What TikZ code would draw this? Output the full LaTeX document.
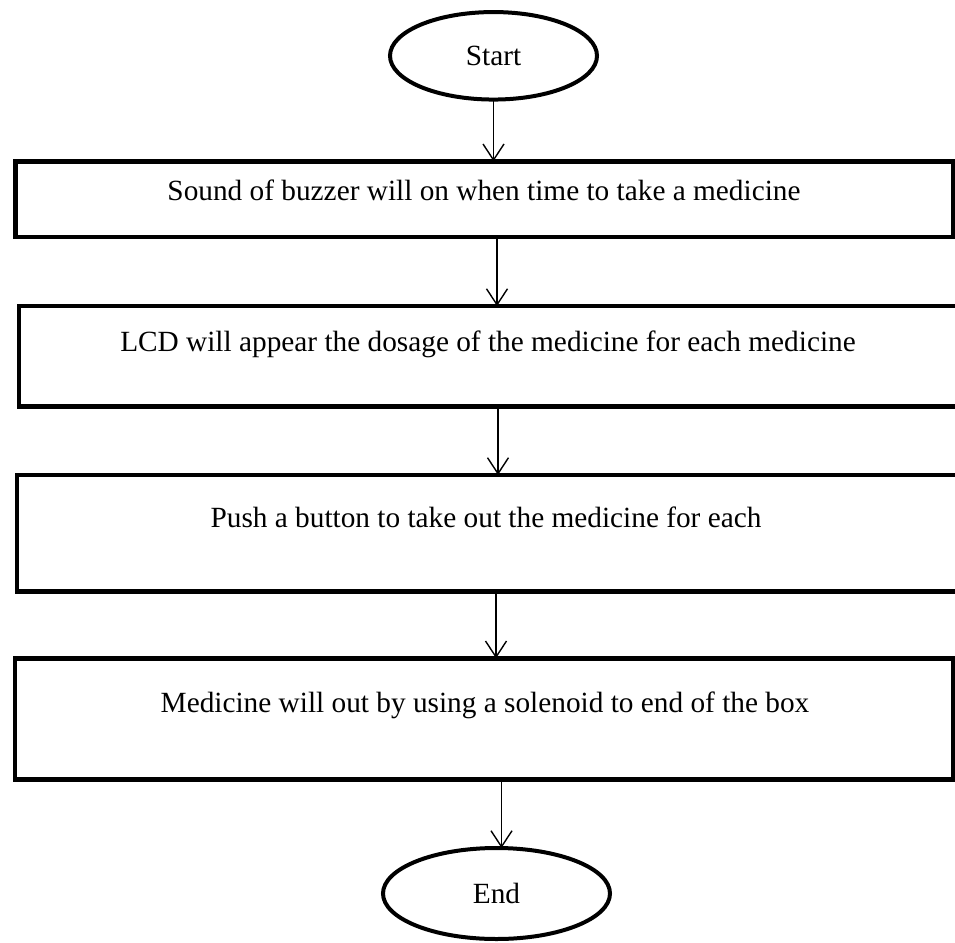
\documentclass[tikz,border=0pt]{standalone}
\usepackage{fontspec}
\setmainfont{Liberation Serif}
\usetikzlibrary{shapes.geometric,arrows.meta}
\begin{document}
\begin{tikzpicture}[x=1pt,y=-1pt]
        \tikzset{
          term/.style={draw,ellipse,line width=4pt,inner sep=0pt,outer sep=0pt,
            font=\fontsize{29.3}{35}\selectfont},
          box/.style={draw,rectangle,line width=4.5pt,inner sep=0pt,outer sep=0pt},
          boxtext/.style={anchor=base,inner sep=0pt,font=\fontsize{29.3}{35}\selectfont},
          flow/.style={line width=1.4pt,-{Straight Barb[length=16pt,width=21pt,line width=1.4pt]}}
        }
        \useasboundingbox (0,0) rectangle (955,942);

        %START
        \node[term,minimum width=207pt,minimum height=87.5pt] (start) at (493.5,55.8) {Start};

        %BOX 1
        \node[box,minimum width=937.5pt,minimum height=75.5pt] (b1) at (484,199) {};
        \node[boxtext] (t1) at (484,200) {Sound of buzzer will on when time to take a medicine};
        %BOX 2
        \node[box,minimum width=939pt,minimum height=100.5pt] (b2) at (488.5,356.3) {};
        \node[boxtext] (t2) at (488,351) {LCD will appear the dosage of the medicine for each medicine};
        %BOX 3
        \node[box,minimum width=940pt,minimum height=116.7pt] (b3) at (487,533.3) {};
        \node[boxtext] (t3) at (486,527) {Push a button to take out the medicine for each};
        %BOX 4
        \node[box,minimum width=938.5pt,minimum height=121.4pt] (b4) at (484,719) {};
        \node[boxtext] (t4) at (485,712.7) {Medicine will out by using a solenoid to end of the box};

        %END
        \node[term,minimum width=227pt,minimum height=91pt] (end) at (496.5,893.5) {End};

        %ARROWS
        \draw[flow] (start.south) -- (start.south |- b1.north);
        \draw[flow] ([xshift=13pt]b1.south) -- ([xshift=8.5pt]b2.north);
        \draw[flow] ([xshift=9.5pt]b2.south) -- ([xshift=11pt]b3.north);
        \draw[flow] ([xshift=9pt]b3.south) -- ([xshift=12pt]b4.north);
        \draw[flow] ([xshift=17.5pt]b4.south) -- ([xshift=5pt]end.north);
    \end{tikzpicture}
\end{document}
